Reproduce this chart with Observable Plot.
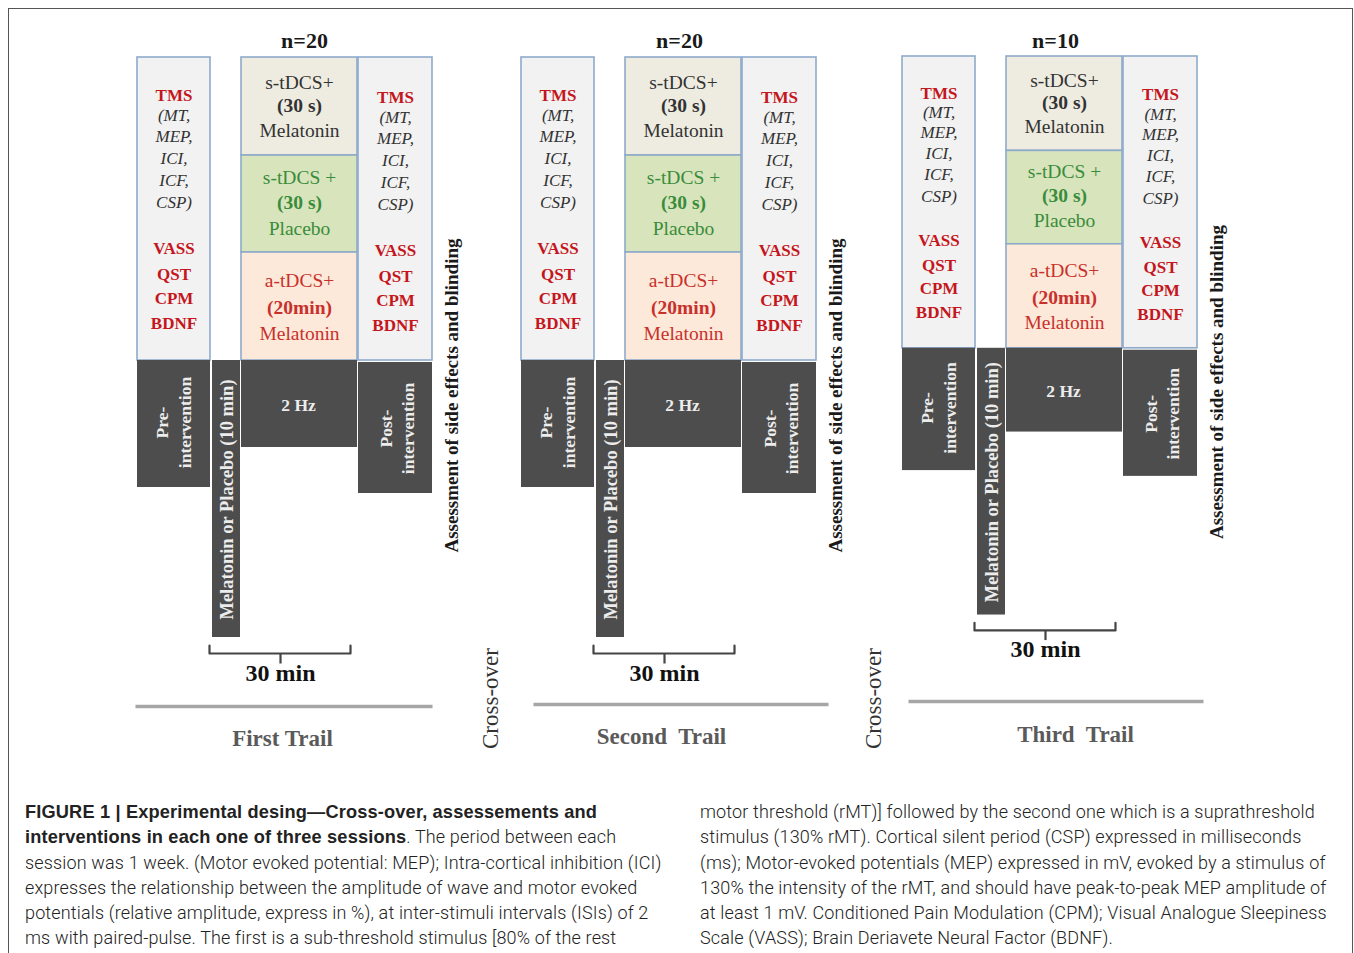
<!DOCTYPE html>
<html><head><meta charset="utf-8">
<script src="https://cdn.jsdelivr.net/npm/d3@7"></script>
<script src="https://cdn.jsdelivr.net/npm/@observablehq/plot@0.6"></script>
<style>
html,body{margin:0;padding:0;background:#fff}
body{width:1354px;height:953px;overflow:hidden;position:relative}
#frame{position:absolute;left:8px;top:8px;width:1345px;height:1000px;border:1.5px solid #555;border-bottom:none;box-sizing:border-box}
#chart{position:absolute;left:0;top:0}
#caption{position:absolute;top:799px;left:0;width:1354px;font-family:Roboto,"Liberation Sans",sans-serif;font-weight:300;font-size:18px;letter-spacing:0.15px;color:#222}
.col{position:absolute;top:0;white-space:nowrap}
.col div{height:25.3px;line-height:25.3px}
.col b{font-family:"Liberation Sans",Arial,sans-serif;font-weight:700;font-size:18.2px;letter-spacing:0.17px;line-height:0}
</style></head>
<body>
<div id="frame"></div>
<div id="chart"></div>
<div id="caption"></div>
<script>
// ---------- data ----------
const sessions = ["First Trail", "Second  Trail", "Third  Trail"];
const sampleSizes = ["n=20", "n=20", "n=10"];
const tmsLabel = "TMS";
const tmsParams = ["(MT,", "MEP,", "ICI,", "ICF,", "CSP)"];
const outcomes = ["VASS", "QST", "CPM", "BDNF"];
const treatmentNames = ["s-tDCS+", "s-tDCS +", "a-tDCS+"];
const treatmentDurations = ["(30 s)", "(30 s)", "(20min)"];
const treatmentDrugs = ["Melatonin", "Placebo", "Melatonin"];
const phaseLabels = ["Pre-\nintervention", "Melatonin or Placebo (10 min)", "2 Hz", "Post-\nintervention"];
const sideEffectLabel = "Assessment of side effects and blinding";
const crossOverLabel = "Cross-over";
const durationLabel = "30 min";
const captionLeft = [
  "<b>FIGURE 1 | Experimental desing\u2014Cross-over, assessements and</b>",
  "<b>interventions in each one of three sessions</b>. The period between each",
  "session was 1 week. (Motor evoked potential: MEP); Intra-cortical inhibition (ICI)",
  "expresses the relationship between the amplitude of wave and motor evoked",
  "potentials (relative amplitude, express in %), at inter-stimuli intervals (ISIs) of 2",
  "ms with paired-pulse. The first is a sub-threshold stimulus [80% of the rest"
];
const captionRight = [
  "motor threshold (rMT)] followed by the second one which is a suprathreshold",
  "stimulus (130% rMT). Cortical silent period (CSP) expressed in milliseconds",
  "(ms); Motor-evoked potentials (MEP) expressed in mV, evoked by a stimulus of",
  "130% the intensity of the rMT, and should have peak-to-peak MEP amplitude of",
  "at least 1 mV. Conditioned Pain Modulation (CPM); Visual Analogue Sleepiness",
  "Scale (VASS); Brain Deriavete Neural Factor (BDNF)."
];

// ---------- layout (geometry & styles) ----------
const W = 1354, H = 790;
const L = {
  panels: [
    {ox: 137, top: 57, sy: 1,     nX: 304,  rule: [135, 432, 706], trail: [282, 738]},
    {ox: 521, top: 57, sy: 1,     nX: 679,  rule: [533, 828, 704], trail: [661, 736]},
    {ox: 902, top: 56, sy: 0.963, nX: 1055, rule: [908, 1203, 701], trail: [1075, 734]}
  ],
  nY: 40,
  cross: [[490, 698], [873, 698]],
  cols: {pre: [0, 73], mel: [75, 103], trt: [104, 220], post: [221, 295]},
  lightH: 303,
  trtRows: [[0, 98], [98, 195], [195, 303]],
  dark: {pre: [303, 430], mel: [303, 580], hz: [303, 390], post: [305, 436]},
  measY: [38, 58, 79, 101, 123, 145, 191, 217, 241, 266], postDy: 2,
  trtTextY: [[25, 48, 73], [120, 145, 171], [223, 250, 276]],
  preLblX: [25, 48], preLblY: 365,
  melLbl: [90, 442], hzLbl: [161, 348],
  postLblX: [249, 271], postLblY: 371,
  side: [314, 338],
  bracket: {x1: 72, x2: 213, xm: 143, yTop: 588, yBar: 596, yTick: 606},
  durY: 616
};
const C = {
  lightFill: "#f2f2f2", lightStroke: "#8eaacb",
  trtFill: ["#eeece1", "#d7e4bc", "#fde9d9"],
  trtText: ["#333333", "#3a8c3a", "#c8302c"],
  dark: "#4d4d4d", darkText: "#ececec",
  red: "#c4161c", ink: "#2b2b2b"
};
const S = {
  n:     {fontSize: 22, fontWeight: "bold", fill: "#1a1a1a"},
  tms:   {fontSize: 17, fontWeight: "bold", fill: C.red},
  param: {fontSize: 17, fontStyle: "italic", fill: "#333"},
  out:   {fontSize: 17, fontWeight: "bold", fill: C.red},
  trt0:  {fontSize: 19.5, fill: C.trtText[0]}, trt0b: {fontSize: 19.5, fontWeight: "bold", fill: C.trtText[0]},
  trt1:  {fontSize: 19.5, fill: C.trtText[1]}, trt1b: {fontSize: 19.5, fontWeight: "bold", fill: C.trtText[1]},
  trt2:  {fontSize: 19.5, fill: C.trtText[2]}, trt2b: {fontSize: 19.5, fontWeight: "bold", fill: C.trtText[2]},
  dark:  {fontSize: 17.5, fontWeight: "bold", fill: C.darkText},
  darkR: {fontSize: 17.5, fontWeight: "bold", fill: C.darkText, rotate: -90},
  melR:  {fontSize: 18.5, fontWeight: "bold", fill: C.darkText, rotate: -90},
  side:  {fontSize: 19, fontWeight: "bold", fill: "#1a1a1a", rotate: -90},
  cross: {fontSize: 23, fill: "#333", rotate: -90},
  dur:   {fontSize: 24, fontWeight: "bold", fill: "#111"},
  trail: {fontSize: 23, fontWeight: "bold", fill: "#5a5a5a"}
};

// ---------- build tables ----------
const rects = [], texts = [], bracketPts = [], links = [], rules = [];
L.panels.forEach((P, i) => {
  const X = v => P.ox + v, Y = v => P.top + v * P.sy;
  const c = L.cols;
  for (const col of [c.pre, c.post])
    rects.push({x1: X(col[0]), x2: X(col[1]), y1: Y(0), y2: Y(L.lightH), fill: C.lightFill, stroke: C.lightStroke});
  L.trtRows.forEach((r, k) => rects.push({x1: X(c.trt[0]), x2: X(c.trt[1]), y1: Y(r[0]), y2: Y(r[1]), fill: C.trtFill[k], stroke: C.lightStroke}));
  rects.push({x1: X(c.pre[0]), x2: X(c.pre[1]), y1: Y(L.dark.pre[0]), y2: Y(L.dark.pre[1]), fill: C.dark, stroke: "none"});
  rects.push({x1: X(c.mel[0]), x2: X(c.mel[1]), y1: Y(L.dark.mel[0]), y2: Y(L.dark.mel[1]), fill: C.dark, stroke: "none"});
  rects.push({x1: X(c.trt[0]), x2: X(c.trt[1]), y1: Y(L.dark.hz[0]), y2: Y(L.dark.hz[1]), fill: C.dark, stroke: "none"});
  rects.push({x1: X(c.post[0]), x2: X(c.post[1]), y1: Y(L.dark.post[0]), y2: Y(L.dark.post[1]), fill: C.dark, stroke: "none"});

  texts.push({x: P.nX, y: L.nY, text: sampleSizes[i], s: "n"});
  const lines = [tmsLabel, ...tmsParams, ...outcomes];
  const kinds = ["tms", ...tmsParams.map(() => "param"), ...outcomes.map(() => "out")];
  [[c.pre, 0], [c.post, L.postDy]].forEach(([col, dy]) => {
    lines.forEach((t, k) => texts.push({x: X((col[0] + col[1]) / 2), y: Y(L.measY[k] + dy), text: t, s: kinds[k]}));
  });
  treatmentNames.forEach((t, k) => {
    const cx = X((c.trt[0] + c.trt[1]) / 2);
    texts.push({x: cx, y: Y(L.trtTextY[k][0]), text: t, s: "trt" + k});
    texts.push({x: cx, y: Y(L.trtTextY[k][1]), text: treatmentDurations[k], s: "trt" + k + "b"});
    texts.push({x: cx, y: Y(L.trtTextY[k][2]), text: treatmentDrugs[k], s: "trt" + k});
  });
  phaseLabels[0].split("\n").forEach((t, k) => texts.push({x: X(L.preLblX[k]), y: Y(L.preLblY), text: t, s: "darkR"}));
  texts.push({x: X(L.melLbl[0]), y: Y(L.melLbl[1]), text: phaseLabels[1], s: "melR"});
  texts.push({x: X(L.hzLbl[0]), y: Y(L.hzLbl[1]), text: phaseLabels[2], s: "dark"});
  phaseLabels[3].split("\n").forEach((t, k) => texts.push({x: X(L.postLblX[k]), y: Y(L.postLblY), text: t, s: "darkR"}));
  texts.push({x: X(L.side[0]), y: Y(L.side[1]), text: sideEffectLabel, s: "side"});
  const b = L.bracket;
  [[b.x1, b.yTop], [b.x1, b.yBar], [b.x2, b.yBar], [b.x2, b.yTop]].forEach(([x, y]) => bracketPts.push({x: X(x), y: Y(y), z: i}));
  links.push({x1: X(b.xm), x2: X(b.xm), y1: Y(b.yBar), y2: Y(b.yTick)});
  texts.push({x: X(b.xm), y: Y(L.durY), text: durationLabel, s: "dur"});
  rules.push({x1: P.rule[0], x2: P.rule[1], y: P.rule[2]});
  texts.push({x: P.trail[0], y: P.trail[1], text: sessions[i], s: "trail"});
});
L.cross.forEach(([x, y]) => texts.push({x, y, text: crossOverLabel, s: "cross"}));

const textMarks = Object.keys(S).map(k =>
  Plot.text(texts.filter(d => d.s === k), {x: "x", y: "y", text: "text", fontFamily: "Liberation Serif", ...S[k]}));

const chart = Plot.plot({
  width: W, height: H,
  margin: 0,
  x: {domain: [0, W], range: [0, W], axis: null},
  y: {domain: [0, H], range: [0, H], axis: null},
  style: {background: "transparent", fontFamily: "Liberation Serif"},
  marks: [
    Plot.rect(rects, {x1: "x1", x2: "x2", y1: "y1", y2: "y2", fill: d => d.fill, stroke: d => d.stroke, strokeWidth: 1.6}),
    Plot.link(rules, {x1: "x1", x2: "x2", y1: "y", y2: "y", stroke: "#a6a6a6", strokeWidth: 3.5}),
    Plot.line(bracketPts, {x: "x", y: "y", z: "z", stroke: "#444", strokeWidth: 2.2, strokeLinejoin: "round"}),
    Plot.link(links, {x1: "x1", x2: "x2", y1: "y1", y2: "y2", stroke: "#444", strokeWidth: 2.2}),
    ...textMarks
  ]
});
document.getElementById("chart").append(chart);

// ---------- caption ----------
const cap = document.getElementById("caption");
[[captionLeft, 25], [captionRight, 700]].forEach(([lines, x]) => {
  const d = document.createElement("div");
  d.className = "col"; d.style.left = x + "px";
  lines.forEach(t => { const r = document.createElement("div"); r.innerHTML = t; d.append(r); });
  cap.append(d);
});
</script>
</body></html>
